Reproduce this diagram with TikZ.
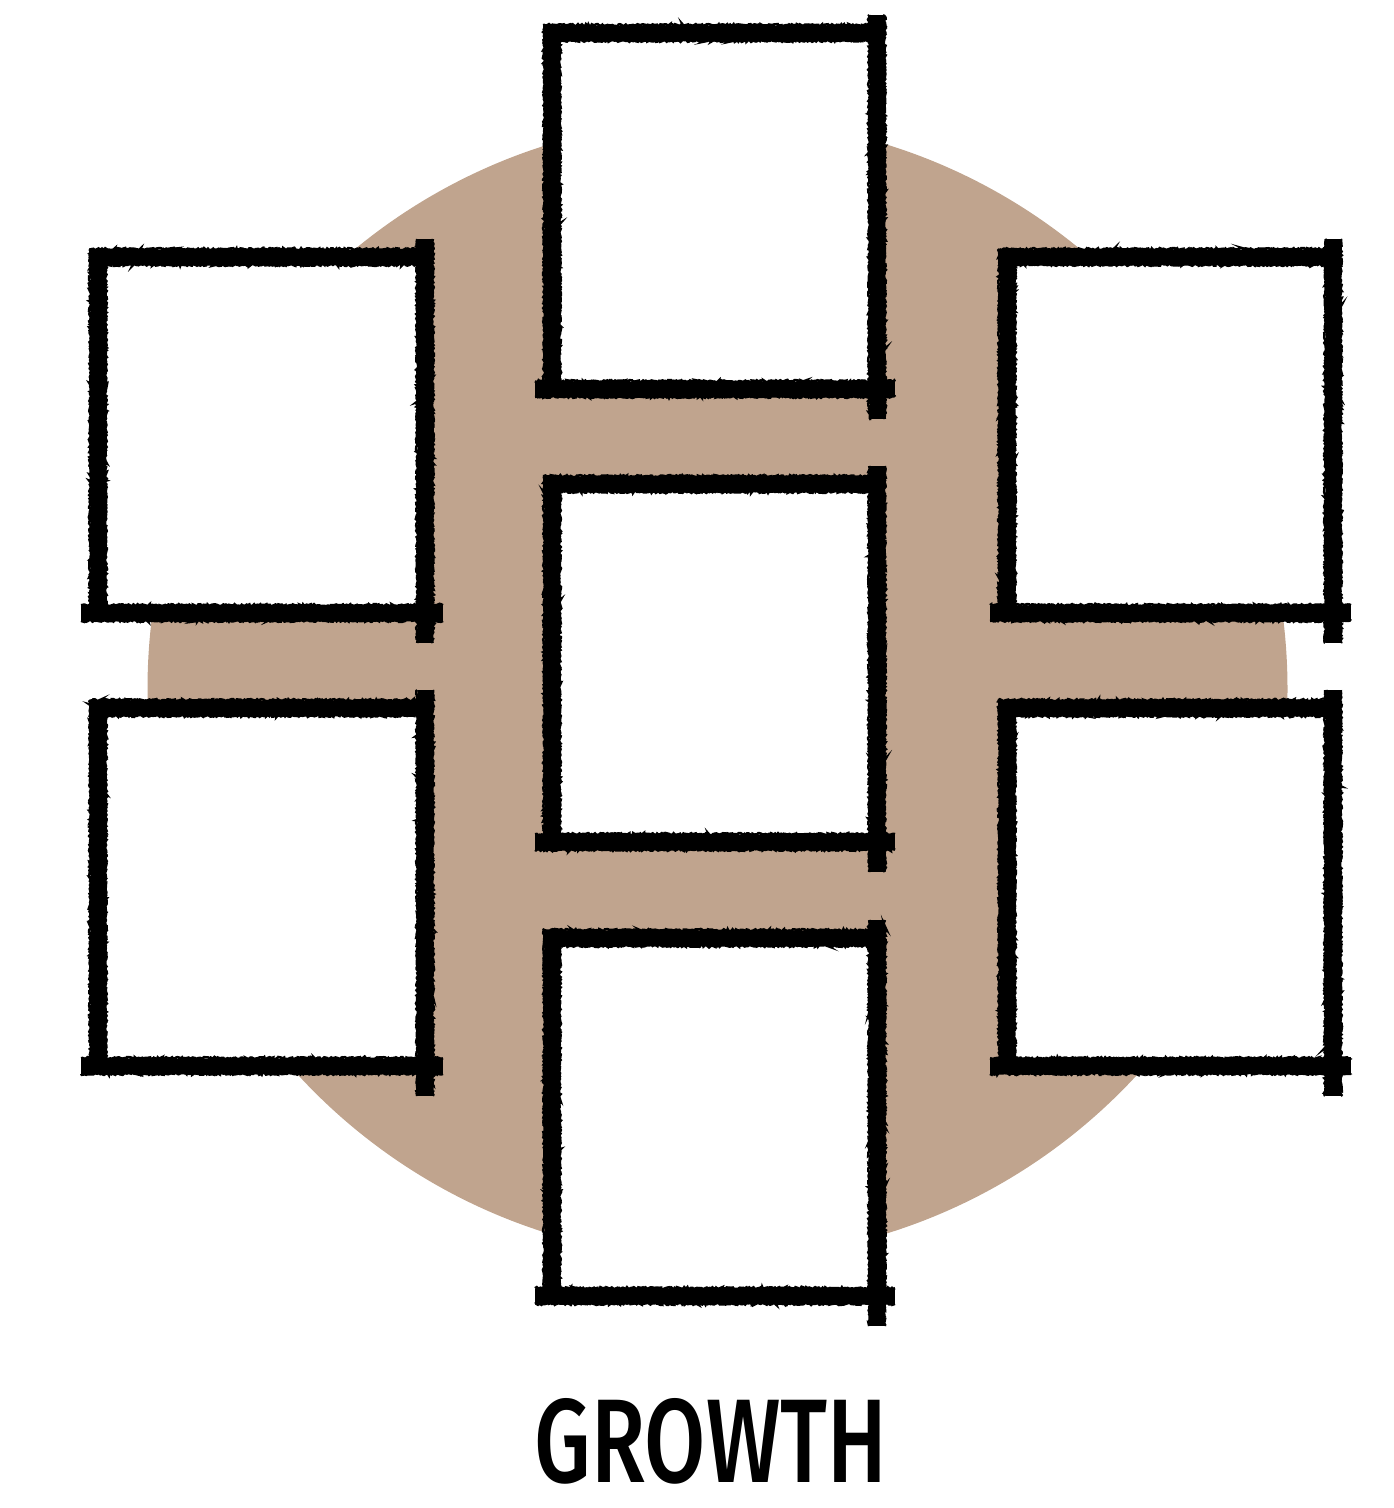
\documentclass[tikz,border=0pt]{standalone}
\usepackage{fontspec}
\usepackage{graphicx}
\newfontfamily\titlefont{Fira Sans Medium}
\usetikzlibrary{decorations.pathmorphing}
\definecolor{tanbg}{RGB}{192,164,142}
\tikzset{
  core/.style={line width=15pt, black},
  fuzz/.style={line width=2.6pt, black, decorate,
    decoration={random steps, segment length=1.3pt, amplitude=1pt}},
}
% horizontal stroke: x1, x2, y
\newcommand\hstroke[3]{%
  \draw[core] ({#1},{#3}) -- ({#2},{#3});
  \draw[fuzz] ({#1},{#3-7.8}) -- ({#2},{#3-7.8});
  \draw[fuzz] ({#1},{#3+7.8}) -- ({#2},{#3+7.8});
}
% vertical stroke: x, y1, y2
\newcommand\vstroke[3]{%
  \draw[core] ({#1},{#2}) -- ({#1},{#3});
  \draw[fuzz] ({#1-7.8},{#2}) -- ({#1-7.8},{#3});
  \draw[fuzz] ({#1+7.8},{#2}) -- ({#1+7.8},{#3});
}
% sketch box: L, R, T, B
\newcommand\sketchbox[4]{%
  \fill[white] (#1,#3) rectangle (#2,#4);
  \hstroke{#1-9}{#2}{#3}
  \vstroke{#1}{#3-8}{#4+6}
  \vstroke{#2}{#3-18}{#4+30}
  \hstroke{#1-17}{#2+18}{#4}
}
\begin{document}
\begin{tikzpicture}[x=1pt,y=-1pt]
\pgfmathsetseed{7}
\useasboundingbox (0,0) rectangle (1393,1508);
\fill[tanbg] (717.5,689) circle[radius=570];
\sketchbox{552}{877}{33}{389}
\sketchbox{552}{877}{484}{842}
\sketchbox{552}{877}{938}{1296}
\sketchbox{98}{425}{257}{613}
\sketchbox{98}{425}{708}{1066}
\sketchbox{1007}{1333}{257}{613}
\sketchbox{1007}{1333}{708}{1066}
\node[inner sep=0pt] (title) at (711,1441) {\resizebox{352pt}{84pt}{\titlefont GROWTH}};
\end{tikzpicture}
\end{document}
